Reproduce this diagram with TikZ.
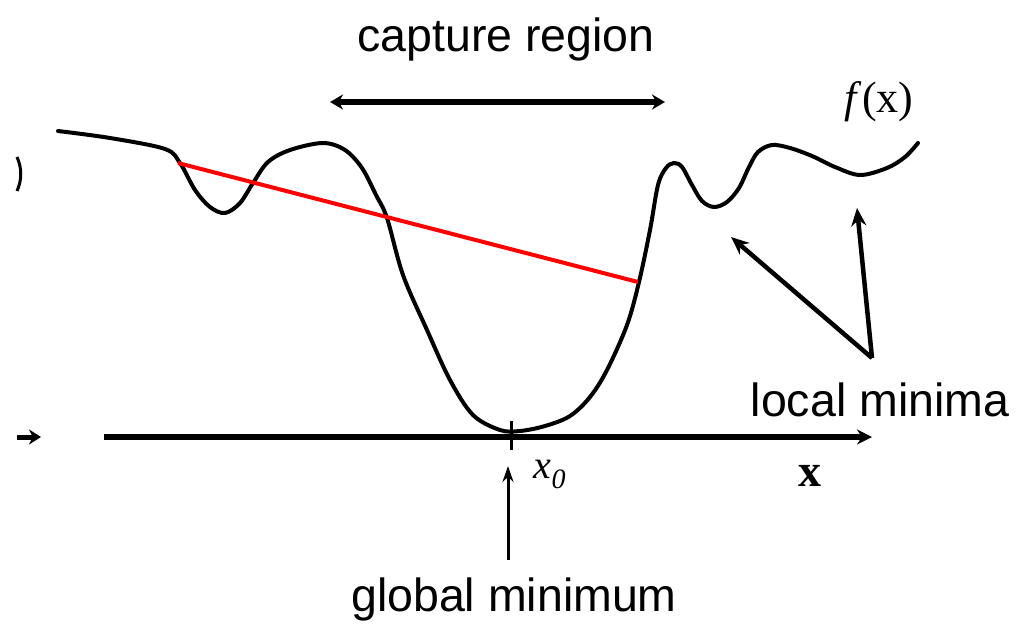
\documentclass[tikz,border=0pt]{standalone}
\usepackage{fontspec}
\setmainfont{Liberation Serif}
\newfontfamily\lsans{Liberation Sans}
\usetikzlibrary{arrows.meta}
\begin{document}
\begin{tikzpicture}[x=1pt,y=-1pt,
  lbl/.style={inner sep=0pt,font=\lsans\fontsize{46.5}{50}\selectfont},
  curve/.style={line width=4pt,line join=round,line cap=round},
  thickarrow/.style={line width=6pt,-{Stealth[length=15pt,width=15pt]}},
  midarrow/.style={line width=4.5pt,-{Stealth[length=18pt,width=15pt]}},
  thinarrow/.style={line width=3pt,-{Stealth[length=16pt,width=11pt]}},
  chord/.style={red,line width=4pt}]
\useasboundingbox (0,0) rectangle (1018,625);
% texts
\node[lbl,anchor=base] (cap) at (506,51) {capture region};
\node[lbl,anchor=base] (glob) at (514,611) {global minimum};
\node[lbl,anchor=base] (loc) at (880,416) {local minima};
\node[inner sep=0pt,anchor=base,font=\fontsize{44}{48}\selectfont] (fx) at (879,112) {\textit{f}(x)};
\node[inner sep=0pt,anchor=base,font=\bfseries\fontsize{46}{50}\selectfont] (xl) at (810,486) {x};
\node[inner sep=0pt,anchor=base,font=\fontsize{40}{44}\selectfont] (x0) at (550,478) {\textit{x}\textsubscript{\textit{0}}};
% capture region arrow
\coordinate (capL) at (330,102);
\coordinate (capR) at (665,102);
\draw[line width=6pt,{Stealth[length=13pt,width=15pt]}-{Stealth[length=13pt,width=15pt]}] (capL) -- (capR);
% axis
\coordinate (axL) at (104,437);
\coordinate (axR) at (872,437);
\draw[thickarrow] (axL) -- (axR);
\coordinate (stubL) at (17,437);
\coordinate (stubR) at (41,437);
\draw[line width=5pt,-{Stealth[length=12pt,width=15pt]}] (stubL) -- (stubR);
% tick at x0
\coordinate (tkT) at (511,421);
\coordinate (tkB) at (511,450);
\draw[line width=3pt] (tkT) -- (tkB);
% fragment at left edge
\draw[line width=3pt] (17,157) .. controls (22,168) and (22,180) .. (17,191);
% function curve
\draw[curve] plot[smooth,tension=0.55] coordinates {
 (58,131) (110,138) (165,149) (180,163) (195,190) (210,207) (225,213)
 (240,203) (253,183) (268,162) (290,150) (323,143) (345,150) (362,168)
 (376,195) (387,218) (403,275) (427,330) (450,380) (473,415) (500,430)
 (520,431) (545,426) (570,416) (590,397) (607,370) (627,325) (639,282)
 (650,230) (658,185) (666,168) (674,163) (682,167) (692,185) (702,201)
 (714,207) (727,202) (739,188) (749,167) (758,152) (772,145) (790,148)
 (812,156) (835,167) (860,175) (887,168) (905,157) (918,143)};
% chord
\coordinate (chA) at (178,163);
\coordinate (chB) at (638,282);
\draw[chord] (chA) -- (chB);
% local minima arrows
\coordinate (lmB) at (872,358);
\coordinate (lmT1) at (731,237);
\coordinate (lmT2) at (857,208);
\draw[midarrow] (lmB) -- (lmT1);
\draw[midarrow] (lmB) -- (lmT2);
% global minimum arrow
\coordinate (gmB) at (508,560);
\coordinate (gmT) at (508,466);
\draw[thinarrow] (gmB) -- (gmT);
\end{tikzpicture}
\end{document}
